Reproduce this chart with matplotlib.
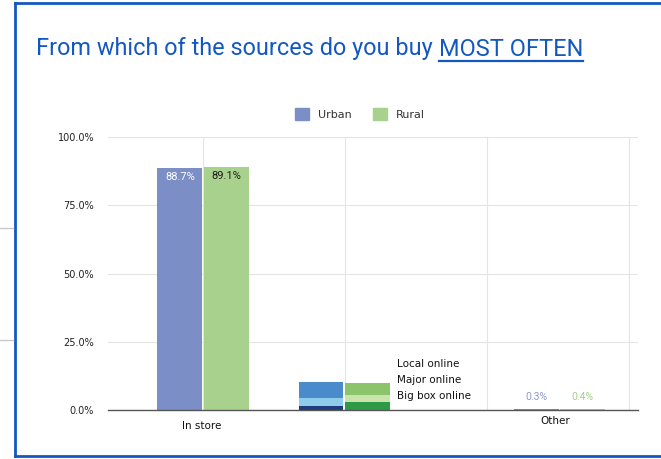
import matplotlib
matplotlib.use("Agg")
import matplotlib.pyplot as plt
from matplotlib.lines import Line2D
from matplotlib.patches import Rectangle
import matplotlib.transforms as mtransforms

# ---------------- data ----------------
title_plain = "From which of the sources do you buy "
title_under = "MOST OFTEN"
series = ["Urban", "Rural"]
categories = ["In store", "Online", "Other"]
in_store = [88.7, 89.1]
other = [0.3, 0.4]
online_parts = ["Big box online", "Major online", "Local online"]
online_urban = [1.5, 3.0, 5.7]
online_rural = [3.0, 2.4, 4.4]
yticks = [0, 25, 50, 75, 100]

# ---------------- styles ----------------
c_urban = "#7b8ec6"
c_rural = "#a9d18e"
urban_stack_colors = ["#1f3d7a", "#8fcbea", "#4a8ccb"]
rural_stack_colors = ["#2e9a47", "#c8e4ab", "#8cc46b"]
grid_c = "#e4e4e4"
blue = "#1358c0"

W, H = 661, 459
fig = plt.figure(figsize=(W / 100, H / 100), dpi=100)
fig.patch.set_facecolor("white")

# axes placement (pixels)
ax_l, ax_r, ax_t, ax_b = 108, 638, 137, 410
ax = fig.add_axes([ax_l / W, 1 - ax_b / H, (ax_r - ax_l) / W, (ax_b - ax_t) / H])

# category x positions (layout)
xpos = [0.0, 0.993, 2.51]
bw = 0.315
off = 0.163

ax.set_xlim(-0.669, 3.063)
ax.set_ylim(0, 100)

# In store bars
ax.bar(xpos[0] - off, in_store[0], width=bw, color=c_urban, zorder=3)
ax.bar(xpos[0] + off, in_store[1], width=bw, color=c_rural, zorder=3)

# Online stacked bars
bu = 0
br = 0
for i in range(len(online_parts)):
    ax.bar(xpos[1] - off, online_urban[i], bottom=bu, width=bw,
           color=urban_stack_colors[i], zorder=3)
    ax.bar(xpos[1] + off, online_rural[i], bottom=br, width=bw,
           color=rural_stack_colors[i], zorder=3)
    bu += online_urban[i]
    br += online_rural[i]

# Other bars
ax.bar(xpos[2] - off, other[0], width=bw, color=c_urban, zorder=3)
ax.bar(xpos[2] + off, other[1], width=bw, color=c_rural, zorder=3)

# value labels
ax.text(xpos[0] - off, in_store[0] - 3.3, f"{in_store[0]:.1f}%", ha="center",
        va="center", color="white", fontsize=8, family="Roboto", zorder=4)
ax.text(xpos[0] + off, in_store[1] - 3.3, f"{in_store[1]:.1f}%", ha="center",
        va="center", color="#1e1e1e", fontsize=8, family="Roboto", zorder=4)
ax.text(xpos[2] - off, other[0] + 4.3, f"{other[0]:.1f}%", ha="center",
        va="center", color="#8c9acb", fontsize=7.5, family="Roboto", zorder=4)
ax.text(xpos[2] + off, other[1] + 4.3, f"{other[1]:.1f}%", ha="center",
        va="center", color="#a6cf8c", fontsize=7.5, family="Roboto", zorder=4)

# online part labels
label_x = xpos[1] + 0.37
for k, name in enumerate(reversed(online_parts)):
    ax.text(label_x, 16.8 - k * 5.9, name, ha="left", va="center",
            fontsize=7.5, color="#111111", zorder=4)

# grid
ax.set_yticks(yticks)
ax.set_yticklabels([f"{v:.1f}%" for v in yticks], fontsize=7, color="#222222")
ax.set_xticks([0, 1, 2, 3])
ax.set_xticklabels([])
ax.tick_params(axis="both", length=0)
ax.tick_params(axis="y", pad=10)
ax.grid(True, color=grid_c, linewidth=0.8, zorder=0)
for s in ["top", "right", "left"]:
    ax.spines[s].set_visible(False)
ax.spines["bottom"].set_color("#555555")
ax.spines["bottom"].set_linewidth(1.0)
ax.spines["bottom"].set_zorder(5)

# category labels
trans = mtransforms.blended_transform_factory(ax.transData, fig.transFigure)
ax.text(xpos[0] - 0.01, 1 - 426 / H, categories[0], transform=trans, ha="center",
        va="center", fontsize=7.5, color="#111111")
ax.text(xpos[2] - 0.03, 1 - 421 / H, categories[2], transform=trans, ha="center",
        va="center", fontsize=7.5, color="#111111")

# legend
handles = [Rectangle((0, 0), 1, 1, color=c_urban), Rectangle((0, 0), 1, 1, color=c_rural)]
fig.legend(handles, series, loc="center", bbox_to_anchor=(360 / W, 1 - 114 / H),
           ncol=2, frameon=False, fontsize=8, handlelength=1.2, handleheight=1.2,
           handletextpad=0.8, columnspacing=2.0, labelcolor="#333333")

# title
t1 = fig.text(36 / W, 1 - 49 / H, title_plain, fontsize=16.9, color=blue,
              family="Roboto", va="center", ha="left")
fig.canvas.draw()
r = fig.canvas.get_renderer()
bb = t1.get_window_extent(r)
t2 = fig.text(bb.x1 / W, 1 - 49 / H, title_under, fontsize=16.9, color=blue,
              family="Roboto", va="center", ha="left")
bb2 = t2.get_window_extent(r)
fig.add_artist(Line2D([bb2.x0 / W, bb2.x1 / W], [1 - 61 / H, 1 - 61 / H],
                      transform=fig.transFigure, color=blue, linewidth=1.6))

# frame border (blue) and background lines
fig.add_artist(Line2D([15 / W, 15 / W], [1 - 3 / H, 1 - 456 / H],
                      transform=fig.transFigure, color=blue, linewidth=2))
fig.add_artist(Line2D([15 / W, 1.0], [1 - 3 / H, 1 - 3 / H],
                      transform=fig.transFigure, color=blue, linewidth=2))
fig.add_artist(Line2D([15 / W, 1.0], [1 - 456 / H, 1 - 456 / H],
                      transform=fig.transFigure, color=blue, linewidth=2))
for yy in [228, 340]:
    fig.add_artist(Line2D([0, 13 / W], [1 - yy / H, 1 - yy / H],
                          transform=fig.transFigure, color="#c8c8c8", linewidth=1))

fig.savefig("out.png", dpi=100)
